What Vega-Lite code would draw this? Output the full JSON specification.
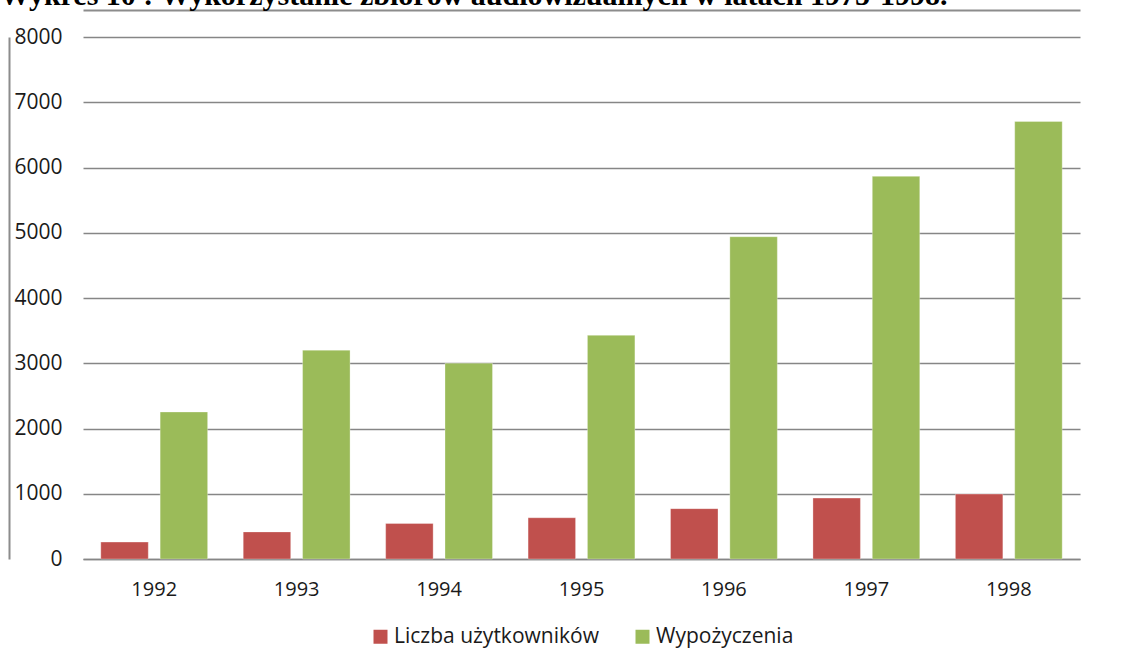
{
  "$schema": "https://vega.github.io/schema/vega-lite/v6.json",
  "autosize": {"type": "none"},
  "width": 997,
  "height": 522,
  "padding": {"left": 83, "top": 37, "right": 48, "bottom": 105},
  "background": "white",
  "title": {
    "text": "Wykres 10 : Wykorzystanie zbiorów audiowizualnych w latach 1975-1998.",
    "anchor": "start",
    "frame": "group",
    "font": "Liberation Serif",
    "fontSize": 30,
    "fontWeight": "bold",
    "color": "black",
    "baseline": "alphabetic",
    "offset": 0,
    "dx": -83,
    "dy": 25
  },
  "data": {
    "values": [
      {"year": "1992", "series": "Liczba użytkowników", "value": 259},
      {"year": "1993", "series": "Liczba użytkowników", "value": 415},
      {"year": "1994", "series": "Liczba użytkowników", "value": 544},
      {"year": "1995", "series": "Liczba użytkowników", "value": 632},
      {"year": "1996", "series": "Liczba użytkowników", "value": 772},
      {"year": "1997", "series": "Liczba użytkowników", "value": 933},
      {"year": "1998", "series": "Liczba użytkowników", "value": 995},
      {"year": "1992", "series": "Wypożyczenia", "value": 2253},
      {"year": "1993", "series": "Wypożyczenia", "value": 3200},
      {"year": "1994", "series": "Wypożyczenia", "value": 3000},
      {"year": "1995", "series": "Wypożyczenia", "value": 3428},
      {"year": "1996", "series": "Wypożyczenia", "value": 4939},
      {"year": "1997", "series": "Wypożyczenia", "value": 5864},
      {"year": "1998", "series": "Wypożyczenia", "value": 6705}
    ]
  },
  "layer": [
    {
      "mark": {"type": "bar", "stroke": "white", "strokeWidth": 0.5, "strokeOpacity": 0.6},
      "encoding": {
        "x": {
          "field": "year",
          "type": "ordinal",
          "scale": {"paddingInner": 0.25, "paddingOuter": 0.125},
          "axis": {
            "title": null,
            "labelAngle": 0,
            "ticks": false,
            "domain": true,
            "domainColor": "#868686",
            "domainWidth": 1.5,
            "labelPadding": 20,
            "labelFont": "Open Sans",
            "labelFontSize": 20,
            "labelColor": "#1a1a1a",
            "labelBaseline": "top"
          }
        },
        "xOffset": {
          "field": "series",
          "type": "nominal",
          "scale": {"paddingInner": 0.2, "paddingOuter": 0}
        },
        "y": {
          "field": "value",
          "type": "quantitative",
          "scale": {"domain": [0, 8000], "nice": false, "zero": true},
          "axis": {
            "title": null,
            "values": [0, 1000, 2000, 3000, 4000, 5000, 6000, 7000, 8000],
            "format": "d",
            "ticks": false,
            "domain": true,
            "domainColor": "#8c8c8c",
            "domainWidth": 2,
            "offset": 74,
            "grid": true,
            "gridColor": "#868686",
            "gridWidth": 1.3,
            "labelPadding": -53,
            "labelFont": "Open Sans",
            "labelFontSize": 21,
            "labelColor": "#1a1a1a"
          }
        },
        "color": {
          "field": "series",
          "type": "nominal",
          "scale": {"domain": ["Liczba użytkowników", "Wypożyczenia"], "range": ["#C0504D", "#9BBB59"]},
          "legend": {
            "title": null,
            "orient": "bottom",
            "direction": "horizontal",
            "symbolType": "square",
            "symbolSize": 196,
            "symbolStrokeWidth": 0,
            "labelFont": "Open Sans",
            "labelFontSize": 21,
            "labelColor": "#1a1a1a",
            "labelLimit": 400,
            "labelOffset": 3,
            "columnPadding": 33,
            "offset": 27
          }
        }
      }
    },
    {
      "mark": {"type": "bar", "opacity": 0},
      "encoding": {
        "x": {
          "field": "year",
          "type": "ordinal",
          "axis": {
            "orient": "top",
            "offset": 27,
            "title": null,
            "labels": false,
            "ticks": false,
            "grid": false,
            "domain": true,
            "domainColor": "#8c8c8c",
            "domainWidth": 2
          }
        }
      }
    }
  ],
  "resolve": {"axis": {"x": "independent"}},
  "config": {
    "view": {"stroke": null},
    "legend": {"layout": {"bottom": {"anchor": "middle"}}}
  }
}
